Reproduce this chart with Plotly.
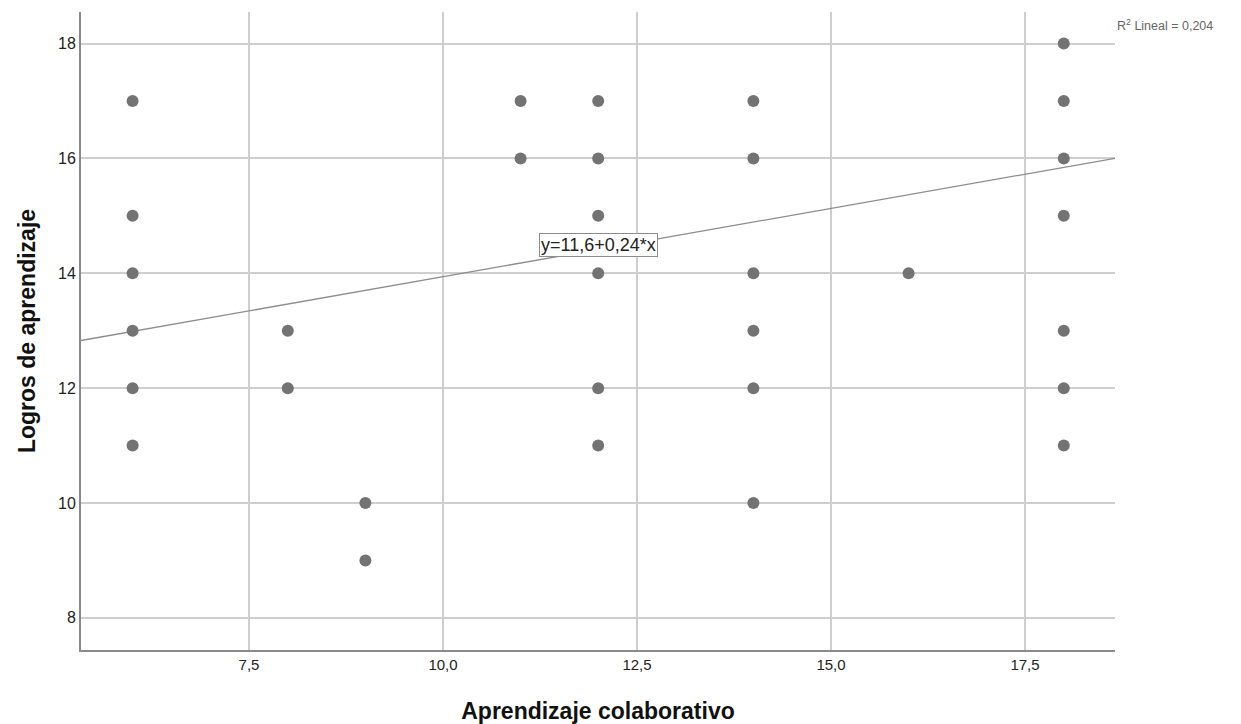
import plotly.graph_objects as go

# Data (Aprendizaje colaborativo vs Logros de aprendizaje)
aprendizaje_colaborativo = [6, 6, 6, 6, 6, 6,
                            8, 8,
                            9, 9,
                            11, 11,
                            12, 12, 12, 12, 12, 12,
                            14, 14, 14, 14, 14, 14,
                            16,
                            18, 18, 18, 18, 18, 18, 18]
logros_aprendizaje = [17, 15, 14, 13, 12, 11,
                      13, 12,
                      10, 9,
                      17, 16,
                      17, 16, 15, 14, 12, 11,
                      17, 16, 14, 13, 12, 10,
                      14,
                      18, 17, 16, 15, 13, 12, 11]

# fitted line (unrounded estimates)
intercept = 11.56
slope = 0.238
r2_text = "R<sup>2</sup> Lineal = 0,204"
eq_text = "y=11,6+0,24*x"

x_range = [5.335, 18.66]
y_range = [7.44, 18.55]
x_ticks = [7.5, 10.0, 12.5, 15.0, 17.5]
x_tick_labels = ["7,5", "10,0", "12,5", "15,0", "17,5"]
y_ticks = [8, 10, 12, 14, 16, 18]

font_family = "Liberation Sans, Arial, sans-serif"

fig = go.Figure()

line_x = x_range
line_y = [intercept + slope * v for v in line_x]
fig.add_trace(go.Scatter(x=line_x, y=line_y, mode="lines",
                         line=dict(color="#8c8c8c", width=1.3),
                         hoverinfo="skip", showlegend=False))

fig.add_trace(go.Scatter(x=aprendizaje_colaborativo, y=logros_aprendizaje,
                         mode="markers",
                         marker=dict(color="#737373", size=12, line=dict(width=0)),
                         showlegend=False))

fig.add_annotation(x=12.0, y=14.5, xref="x", yref="y", text=eq_text,
                   showarrow=False, font=dict(family=font_family, size=18, color="#222"),
                   bordercolor="#8c8c8c", borderwidth=1, borderpad=1, bgcolor="white")

fig.add_annotation(x=1.0, y=0.98, xref="paper", yref="paper", text=r2_text,
                   xanchor="left", yanchor="middle", showarrow=False,
                   font=dict(family=font_family, size=12.5, color="#666"))

fig.update_layout(
    width=1233, height=716,
    margin=dict(l=73, r=126, t=4, b=74),
    plot_bgcolor="white", paper_bgcolor="white",
    font=dict(family=font_family, size=16, color="#222"),
    xaxis=dict(range=x_range, tickvals=x_ticks, ticktext=x_tick_labels,
               showgrid=True, gridcolor="#cfcfcf", gridwidth=1.5,
               showline=True, linecolor="#8a8a8a", linewidth=2,
               zeroline=False, ticks="", ticklen=0,
               tickfont=dict(size=15, color="#222"),
               title=dict(text="<b>Aprendizaje colaborativo</b>",
                          font=dict(size=23, color="#111"), standoff=31)),
    yaxis=dict(range=y_range, tickvals=y_ticks,
               showgrid=True, gridcolor="#cfcfcf", gridwidth=1.5,
               showline=True, linecolor="#8a8a8a", linewidth=2,
               zeroline=False, ticks="", ticklen=0,
               tickfont=dict(size=16, color="#222"),
               title=dict(text="<b>Logros de aprendizaje</b>",
                          font=dict(size=23, color="#111"), standoff=16)),
)

fig.write_html("out.html")
